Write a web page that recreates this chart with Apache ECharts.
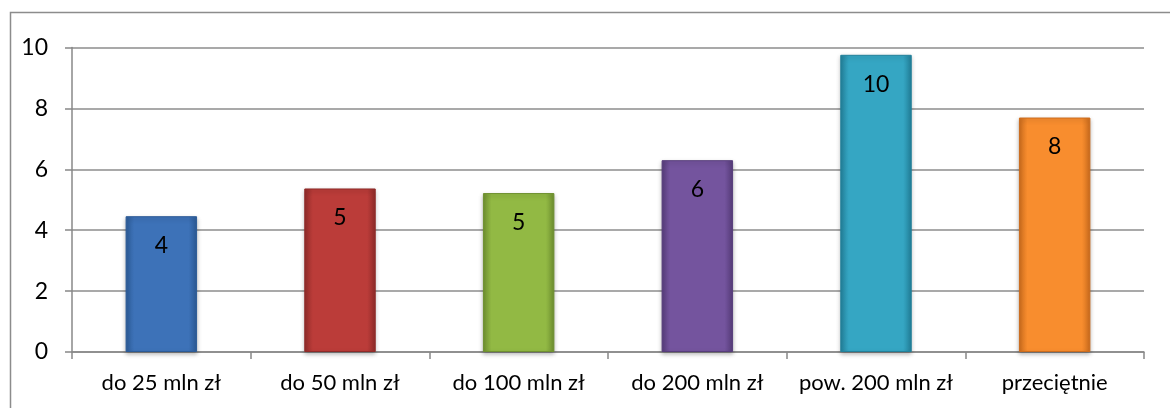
<!DOCTYPE html>
<html>
<head>
<meta charset="utf-8">
<script src="https://cdn.jsdelivr.net/npm/echarts@6/dist/echarts.min.js"></script>
<style>
    html, body { margin: 0; padding: 0; background: #fff; }
    #chart { width: 1170px; height: 408px; }
</style>
</head>
<body>
<div id="chart"></div>
<script>
// ---- dane ----
const categories = ['do 25 mln zł', 'do 50 mln zł', 'do 100 mln zł', 'do 200 mln zł', 'pow. 200 mln zł', 'przeciętnie'];
const values = [4.46, 5.37, 5.22, 6.3, 9.76, 7.7];
const yTicks = [0, 2, 4, 6, 8, 10];

// kolory słupków: [krawędź, środek]
const barColors = [
    ['#2c5b97', '#3d72b8'],
    ['#8f2b29', '#bb3c39'],
    ['#6f9030', '#92b944'],
    ['#573d7b', '#74549e'],
    ['#22809a', '#35a6c3'],
    ['#cc6c1d', '#f88d2e'],
];

const FONT = 'Lato, "Open Sans", sans-serif';

function barStyle(i) {
    const [edge, mid] = barColors[i];
    return {
        color: new echarts.graphic.LinearGradient(0, 0, 1, 0, [
            { offset: 0, color: edge },
            { offset: 0.12, color: mid },
            { offset: 0.88, color: mid },
            { offset: 1, color: edge },
        ]),
        borderColor: edge,
        borderWidth: 1,
        shadowColor: 'rgba(0,0,0,0.25)',
        shadowBlur: 4,
        shadowOffsetY: 2,
    };
}

const chart = echarts.init(document.getElementById('chart'), null, { renderer: 'canvas' });
chart.setOption({
    animation: false,
    backgroundColor: '#fff',
    graphic: [{
        type: 'rect',
        shape: { x: 10.5, y: 12.5, width: 1200, height: 500 },
        style: { fill: 'none', stroke: '#8c8c8c', lineWidth: 1.5 },
        silent: true,
        z: -1,
    }],
    grid: { left: 72, right: 26, top: 47.5, bottom: 56, containLabel: false },
    xAxis: {
        type: 'category',
        data: categories,
        axisLine: { lineStyle: { color: '#888', width: 1.5 } },
        axisTick: { show: true, interval: 0, length: 7, lineStyle: { color: '#888', width: 1.5 } },
        axisLabel: { interval: 0, color: '#000', fontSize: 22, fontFamily: FONT, margin: 20 },
    },
    yAxis: {
        type: 'value',
        min: yTicks[0],
        max: yTicks[yTicks.length - 1],
        interval: 2,
        axisLine: { show: true, lineStyle: { color: '#888', width: 1.5 } },
        axisTick: { show: true, length: 7, lineStyle: { color: '#888', width: 1.5 } },
        axisLabel: { color: '#000', fontSize: 23, fontFamily: FONT, margin: 24 },
        splitLine: { lineStyle: { color: '#8c8c8c', width: 1.5 } },
    },
    series: [{
        type: 'bar',
        barWidth: '40%',
        data: values.map((v, i) => ({ value: v, itemStyle: barStyle(i) })),
        label: {
            show: true,
            position: 'insideTop',
            distance: 18,
            color: '#000',
            fontSize: 23,
            fontFamily: FONT,
            formatter: p => Math.round(p.value),
        },
    }],
});
</script>
</body>
</html>
